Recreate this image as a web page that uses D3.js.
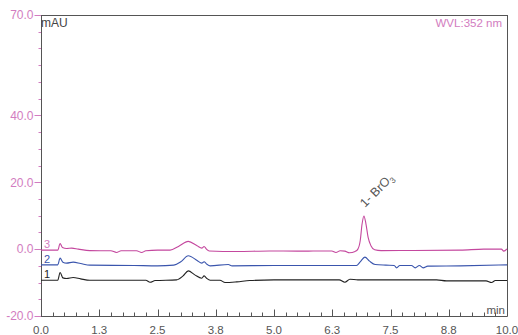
<!DOCTYPE html>
<html><head><meta charset="utf-8">
<script src="https://cdn.jsdelivr.net/npm/d3@7/dist/d3.min.js"></script>
<style>html,body{margin:0;padding:0;background:#fff;}svg{display:block;font-family:"Liberation Sans",Arial,sans-serif;}</style>
</head><body><svg id="c" width="518" height="335"></svg>
<script>
// ---- data ----
const xTickValues = [0, 1.25, 2.5, 3.75, 5, 6.25, 7.5, 8.75, 10];
const xTickLabels = ["0.0","1.3","2.5","3.8","5.0","6.3","7.5","8.8","10.0"];
const yTickValues = [70, 40, 20, 0, -20];
const yTickLabels = ["70.0","40.0","20.0","0.0","-20.0"];

const trace3Time = [0,0.36,0.41,0.46,0.55,0.66,0.8,1.05,1.5,1.62,1.72,2.05,2.16,2.25,2.5,2.77,2.95,3.16,3.35,3.45,3.5,3.55,3.61,4.2,4.9,5.5,6.24,6.33,6.42,6.52,6.62,6.74,6.80,6.85,6.89,6.93,6.97,7.02,7.08,7.16,7.3,8,9,9.5,9.88,9.93,10];
const trace3Value = [-0.3,-0.3,1.7,0.5,0.2,0.3,0.0,-0.45,-0.5,-1.0,-0.5,-0.5,-1.0,-0.5,-0.3,-0.3,0.8,2.3,1.0,0.3,0.8,0.0,-0.55,-0.7,-0.55,-0.6,-0.55,-1.0,-0.5,-0.6,-1.1,-0.7,0.0,2.5,7.5,9.9,7.8,3.5,1.0,-0.2,-0.45,-0.4,-0.3,0.0,0.0,-0.6,0.1];

const trace2Time = [0,0.36,0.41,0.47,0.55,0.69,0.85,1.05,2.0,2.5,2.85,3.0,3.16,3.35,3.45,3.50,3.55,3.63,4.02,4.1,5.0,6.0,6.77,6.85,6.95,7.05,7.17,7.4,7.58,7.63,7.7,7.95,8.03,8.12,8.2,8.3,9.0,10];
const trace2Value = [-4.7,-4.7,-2.7,-3.9,-4.2,-3.9,-4.3,-4.8,-4.9,-5.0,-4.8,-3.8,-2.0,-3.4,-4.2,-3.8,-4.4,-5.0,-4.6,-5.0,-4.9,-4.9,-4.9,-3.8,-2.4,-3.6,-4.6,-4.8,-4.9,-5.6,-4.9,-4.9,-5.6,-4.9,-5.6,-5.1,-5.0,-4.7];

const trace1Time = [0,0.36,0.41,0.47,0.55,0.69,0.85,1.05,2.25,2.34,2.45,2.91,3.05,3.16,3.3,3.45,3.5,3.56,3.63,3.84,3.95,4.2,4.48,5.0,6.4,6.52,6.63,6.8,7.5,8.49,8.7,9.55,9.67,9.75,10];
const trace1Value = [-9.3,-9.3,-7.0,-8.6,-8.8,-8.5,-8.9,-9.3,-9.3,-9.9,-9.4,-9.2,-8.0,-6.5,-7.7,-8.7,-8.0,-8.8,-9.3,-9.3,-10.0,-9.8,-9.4,-9.2,-9.2,-9.9,-9.0,-9.2,-9.2,-9.2,-9.5,-9.5,-10.0,-9.4,-9.4];

const seriesNames = ["1","2","3"];
const seriesColors = ["#222222","#3a55ad","#c4479e"];
const peakLabel = {t: 6.93, v: 9.9, text: "1- BrO", sub: "3"};

// ---- drawing ----
const svg = d3.select("#c");
const L = 41, R = 507, T = 15, B = 316;
const x = d3.scaleLinear().domain([0,10]).range([L,R]);
const y = d3.scaleLinear().domain([-20,70]).range([B,T]);
const gray = "#555", pinkLbl = "#d27cc0";

// frame top and right
svg.append("line").attr("x1",L).attr("x2",R).attr("y1",T+0.5).attr("y2",T+0.5).attr("stroke",gray);
svg.append("line").attr("x1",R+0.5).attr("x2",R+0.5).attr("y1",T).attr("y2",B).attr("stroke",gray);

// y axis
const yMinor = d3.range(-20, 70.01, 5);
const yAx = svg.append("g").attr("transform",`translate(${L+0.5},0)`);
yAx.selectAll(".mn").data(yMinor).join("line")
  .attr("x1",-3).attr("x2",0).attr("y1",d=>Math.round(y(d))+0.5).attr("y2",d=>Math.round(y(d))+0.5).attr("stroke",pinkLbl);
yAx.selectAll(".mj").data(yTickValues).join("line")
  .attr("x1",-7).attr("x2",0).attr("y1",d=>Math.round(y(d))+0.5).attr("y2",d=>Math.round(y(d))+0.5).attr("stroke",pinkLbl);
yAx.selectAll("text").data(yTickValues).join("text")
  .attr("x",-8).attr("y",d=>y(d)).attr("dy","0.36em").attr("text-anchor","end")
  .attr("font-size",12).attr("fill",pinkLbl).text((d,i)=>yTickLabels[i]);
yAx.append("line").attr("y1",T).attr("y2",B).attr("stroke",gray);

// x axis
const xMinor = d3.range(0, 10.001, 0.25);
const xAx = svg.append("g").attr("transform",`translate(0,${B+0.5})`);
xAx.selectAll(".mn").data(xMinor).join("line")
  .attr("x1",d=>Math.round(x(d))+0.5).attr("x2",d=>Math.round(x(d))+0.5).attr("y1",0).attr("y2",-4).attr("stroke",gray);
xAx.selectAll(".mj").data(xTickValues).join("line")
  .attr("x1",d=>Math.round(x(d))+0.5).attr("x2",d=>Math.round(x(d))+0.5).attr("y1",0).attr("y2",-7).attr("stroke",gray);
xAx.selectAll("text").data(xTickValues).join("text")
  .attr("x",d=>x(d)).attr("y",17.5).attr("text-anchor","middle")
  .attr("font-size",11.5).attr("fill",gray).text((d,i)=>xTickLabels[i]);
xAx.append("line").attr("x1",L).attr("x2",R).attr("stroke",gray);

// texts
svg.append("text").attr("x",L).attr("y",27).attr("font-size",12).attr("fill","#444").text("mAU");
svg.append("text").attr("x",502).attr("y",27).attr("text-anchor","end").attr("font-size",11.5).attr("fill",pinkLbl).text("WVL:352 nm");
svg.append("text").attr("x",505).attr("y",314).attr("text-anchor","end").attr("font-size",11.5).attr("fill",gray).text("min");

// traces
const traces = [
  {t:trace1Time, v:trace1Value},
  {t:trace2Time, v:trace2Value},
  {t:trace3Time, v:trace3Value}
];
const line = d3.line().x(d=>x(d[0])).y(d=>y(d[1])).curve(d3.curveMonotoneX);
traces.forEach((s,i)=>{
  const pts = s.t.map((t,j)=>[t,s.v[j]]);
  svg.append("path").datum(pts).attr("d",line).attr("fill","none")
    .attr("stroke",seriesColors[i]).attr("stroke-width",1.1);
  svg.append("text").attr("x",L+3).attr("y",y(s.v[0])-2).attr("font-size",11)
    .attr("fill",i===2?pinkLbl:seriesColors[i]).text(seriesNames[i]);
});

// peak label
const pl = svg.append("text")
  .attr("transform",`translate(${x(peakLabel.t)+1},${y(peakLabel.v)-8}) rotate(-45)`)
  .attr("font-size",12.5).attr("fill",gray);
pl.append("tspan").text(peakLabel.text);
pl.append("tspan").attr("font-size",8.5).attr("dy",3).text(peakLabel.sub);
</script></body></html>
